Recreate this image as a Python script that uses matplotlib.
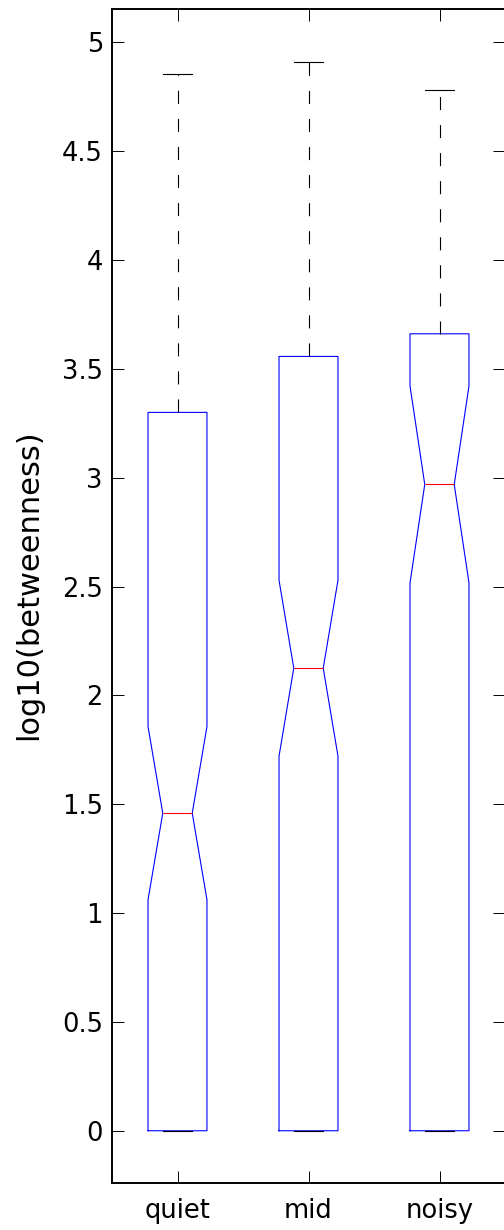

# notched box plot of log10(betweenness) for three noise groups (MATLAB look)
import matplotlib
matplotlib.use('Agg')
import matplotlib.pyplot as plt
from matplotlib.ticker import FuncFormatter

plt.rcParams['font.family'] = ['DejaVu Sans']
plt.rcParams['lines.scale_dashes'] = False

# values
groups = ['quiet', 'mid', 'noisy']
medians = [1.459, 2.125, 2.969]
q1s = [0.0, 0.0, 0.0]
q3s = [3.30, 3.557, 3.661]
notch_lo = [1.061, 1.721, 2.517]
notch_hi = [1.857, 2.529, 3.421]
whisk_lo = [0.0, 0.0, 0.0]
whisk_hi = [4.853, 4.908, 4.780]
y_ticks = [0, 0.5, 1, 1.5, 2, 2.5, 3, 3.5, 4, 4.5, 5]

fig = plt.figure(figsize=(5.04, 12.30), dpi=100)
ax = fig.add_axes([112 / 504, 47 / 1230, 393 / 504, 1174 / 1230])

stats = []
for i, name in enumerate(groups):
    stats.append(dict(label=name, med=medians[i], q1=q1s[i], q3=q3s[i],
                      cilo=notch_lo[i], cihi=notch_hi[i],
                      whislo=whisk_lo[i], whishi=whisk_hi[i], fliers=[]))

ax.bxp(stats, positions=[1, 2, 3], widths=0.45, shownotches=True, showfliers=False,
       boxprops=dict(color='blue', linewidth=0.8),
       medianprops=dict(color='red', linewidth=0.8),
       whiskerprops=dict(color='black', linewidth=0.8, linestyle=(0, (9.4, 10.8))),
       capprops=dict(color='black', linewidth=0.8))

ax.set_xlim(0.5, 3.5)
ax.set_ylim(-0.24, 5.153)
ax.set_yticks(y_ticks)
ax.yaxis.set_major_formatter(FuncFormatter(lambda v, p: '%g' % v))
ax.set_xticks([1, 2, 3])
ax.set_xticklabels(groups)

ax.tick_params(direction='in', length=8.6, width=0.7, colors='black',
               top=True, right=True, labelsize=18.5)
ax.tick_params(axis='y', pad=6.5)
ax.tick_params(axis='x', pad=11)
for s in ax.spines.values():
    s.set_linewidth(1.4)

ax.set_ylabel('log10(betweenness)', fontsize=22)
ax.yaxis.set_label_coords(-0.176, 0.51)

fig.savefig('out.png', dpi=100)
